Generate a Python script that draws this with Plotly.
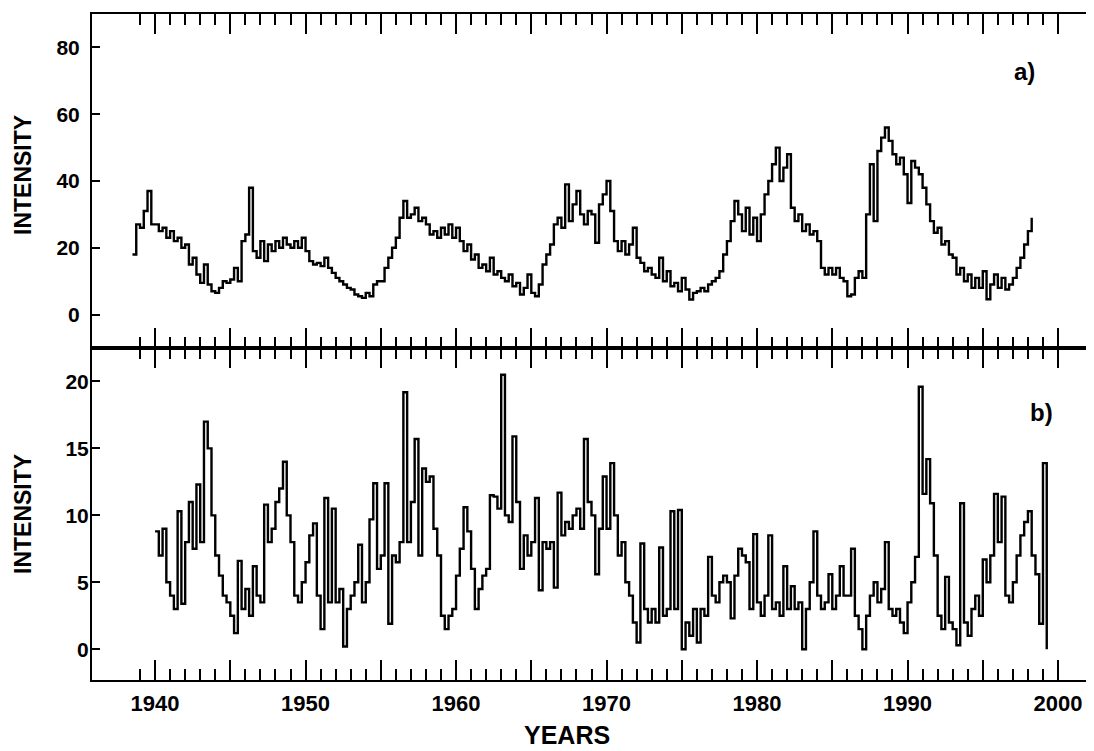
import plotly.graph_objects as go

# ---------------- data (quarter-year sampling) ----------------
STEP = 0.25

A_START = 1938.5
intensity_a = [
    18, 27,                 # 1938.50-1938.75
    26, 31, 37, 27,         # 1939
    27, 25, 26, 23,         # 1940
    25, 22, 23, 20,         # 1941
    21, 15, 17, 12,         # 1942
    9.5, 15, 9, 7,          # 1943
    6.5, 8, 10, 9.5,        # 1944
    10.5, 14, 10, 22,       # 1945
    24, 38, 19, 17,         # 1946
    22, 16, 21, 19,         # 1947
    22, 20, 23, 21,         # 1948
    20, 22, 20, 23,         # 1949
    19, 16, 15, 15.5,       # 1950
    14.5, 17, 14, 12.5,     # 1951
    11, 10, 9, 8,           # 1952
    7.5, 6, 5.5, 5,         # 1953
    6.5, 5.5, 9, 10,        # 1954
    10, 14, 17, 20,         # 1955
    23, 29, 34, 29,         # 1956
    30, 32, 28, 29,         # 1957
    27, 24, 25, 23,         # 1958
    26, 24, 27, 23,         # 1959
    26, 22, 19, 21,         # 1960
    16.5, 18, 14, 15,       # 1961
    13, 17, 12, 13,         # 1962
    11, 10, 12, 8.5,        # 1963
    9.5, 6, 8, 12,          # 1964
    6.5, 5.5, 9, 15,        # 1965
    18, 21, 27, 29,         # 1966
    26, 39, 28, 33,         # 1967
    37, 30, 27, 31,         # 1968
    30, 21.5, 33, 36,       # 1969
    40, 31, 22, 19,         # 1970
    22, 18, 21, 26,         # 1971
    17, 15.5, 13, 14,       # 1972
    12, 11, 17, 10,         # 1973
    13, 8.5, 9.5, 7,        # 1974
    11, 7.5, 4.5, 6.5,      # 1975
    7, 8, 7, 9,             # 1976
    10, 11, 13, 18,         # 1977
    22, 28, 34, 30,         # 1978
    25, 32, 24, 29,         # 1979
    22, 30, 36, 40,         # 1980
    45, 50, 40, 44,         # 1981
    48, 32, 28, 30,         # 1982
    25, 27, 24, 25,         # 1983
    22, 14, 12, 14,         # 1984
    12, 14, 11, 10,         # 1985
    5.5, 6, 11, 13,         # 1986
    11, 30, 45, 28,         # 1987
    49, 53, 56, 52,         # 1988
    48, 45, 47, 42,         # 1989
    33.4, 46, 44, 42,       # 1990
    38, 33, 28, 24.5,       # 1991
    26, 21, 22, 18,         # 1992
    17, 12, 14, 10,         # 1993
    12, 8, 11, 8,           # 1994
    13, 4.6, 9, 12,         # 1995
    8, 11, 7.5, 9,          # 1996
    11, 14, 17, 21,         # 1997
    25, 29,                 # 1998.00-1998.25
]

B_START = 1940.0
intensity_b = [
    8.8, 7, 9, 5,           # 1940
    4, 3, 10.3, 3.4,        # 1941
    8, 11, 7.5, 12.3,       # 1942
    8, 17, 15, 10,          # 1943
    7, 5.5, 4, 3.5,         # 1944
    2.5, 1.2, 6.6, 3,       # 1945
    4.5, 2.5, 6.2, 4,       # 1946
    3.5, 10.8, 8, 9,        # 1947
    11, 12, 14, 10,         # 1948
    8, 4, 3.5, 5,           # 1949
    6.5, 8.5, 9.4, 4,       # 1950
    1.5, 11.3, 3.5, 10.5,   # 1951
    3.5, 4.5, 0.2, 3,       # 1952
    4, 5, 7.8, 3.5,         # 1953
    5, 9.7, 12.4, 6,        # 1954
    7, 12.4, 1.9, 7,        # 1955
    6.5, 8, 19.2, 8,        # 1956
    11, 15.7, 7, 13.5,      # 1957
    12.5, 12.9, 9, 7,       # 1958
    2.5, 1.5, 2.5, 3,       # 1959
    5.5, 7.5, 10.6, 8.8,    # 1960
    6, 3, 4.5, 5.5,         # 1961
    6, 11.5, 11.4, 10.5,    # 1962
    20.5, 10, 9.5, 15.9,    # 1963
    11, 6, 8.5, 7,          # 1964
    8, 11.3, 4.4, 8,        # 1965
    7.5, 8, 4.6, 11.7,      # 1966
    8.5, 9.5, 9, 10,        # 1967
    10.5, 9, 15.7, 11,      # 1968
    10, 5.6, 9, 12.9,       # 1969
    9, 13.9, 10, 7,         # 1970
    8, 5, 4, 2,             # 1971
    0.5, 7.9, 3, 2,         # 1972
    3, 2, 7.6, 2.5,         # 1973
    3, 10.3, 3, 10.4,       # 1974
    0, 2, 1, 3,             # 1975
    0.5, 3, 2.5, 6.9,       # 1976
    4, 3.5, 5, 5.5,         # 1977
    5, 2.3, 5.5, 7.5,       # 1978
    7, 6.5, 3, 8.6,         # 1979
    3.5, 2.5, 4, 8.5,       # 1980
    3, 3.5, 2.5, 6.2,       # 1981
    3, 4.7, 3, 3.5,         # 1982
    0, 3, 5, 8.8,           # 1983
    4, 3, 3.5, 5.6,         # 1984
    3, 4, 6.2, 4,           # 1985
    4, 7.5, 2.5, 1.5,       # 1986
    0, 2.5, 4, 5,           # 1987
    3.5, 4.5, 8, 3,         # 1988
    2.5, 3, 2, 1.2,         # 1989
    3.5, 5, 6.9, 19.6,      # 1990
    11.6, 14.2, 10.9, 7,    # 1991
    2.5, 1.5, 5.4, 2,       # 1992
    1.5, 0.3, 10.9, 2,      # 1993
    1, 3, 4, 2.5,           # 1994
    6.7, 5, 7, 11.6,        # 1995
    8, 11.4, 4, 3.5,        # 1996
    5, 7, 8.5, 9.5,         # 1997
    10.3, 7, 5.6, 1.9,      # 1998
    13.9, 0,                # 1999.00-1999.25
]

year_ticks = [1940, 1945, 1950, 1955, 1960, 1965, 1970, 1975, 1980, 1985, 1990, 1995, 2000]
year_labels = ["1940", "", "1950", "", "1960", "", "1970", "", "1980", "", "1990", "", "2000"]
minor_years = list(range(1939, 2001))
ticks_a = [0, 20, 40, 60, 80]
ticks_b = [0, 5, 10, 15, 20]

years_a = [A_START + STEP * i for i in range(len(intensity_a))]
years_b = [B_START + STEP * i for i in range(len(intensity_b))]

# ---------------- figure ----------------
FONT = "Liberation Sans, Arial, sans-serif"
X_RANGE = [1935.81, 2002.39]
SPLIT = 0.4985

fig = go.Figure()
fig.add_trace(go.Scatter(x=years_a, y=intensity_a, xaxis="x2", yaxis="y2", mode="lines",
                         line=dict(color="black", width=2.4, shape="hv"), showlegend=False))
fig.add_trace(go.Scatter(x=years_b, y=intensity_b, xaxis="x", yaxis="y", mode="lines",
                         line=dict(color="black", width=2.4, shape="hv"), showlegend=False))
# empty helper traces so that the tick-only overlay axes are rendered
for xa, ya in (("x3", "y"), ("x4", "y2"), ("x5", "y"), ("x6", "y2")):
    fig.add_trace(go.Scatter(x=[], y=[], xaxis=xa, yaxis=ya, mode="lines",
                             showlegend=False, hoverinfo="skip"))

common_x = dict(
    range=X_RANGE, tickmode="array", tickvals=year_ticks, ticktext=year_labels,
    ticks="inside", ticklen=20, tickwidth=2, tickcolor="black",
    showline=True, linewidth=2, linecolor="black", mirror="ticks",
    showgrid=False, zeroline=False, automargin=False,
)

# yearly ticks (short) limited to 1939-2000
minor_x = dict(
    range=X_RANGE, tickmode="array", tickvals=minor_years, showticklabels=False,
    ticks="inside", ticklen=11, tickwidth=2, tickcolor="black",
    showline=True, linewidth=2, linecolor="black", mirror="ticks",
    showgrid=False, zeroline=False, automargin=False,
)

# five-year ticks (long)
major_x = dict(
    range=X_RANGE, tickmode="array", tickvals=year_ticks, showticklabels=False,
    ticks="inside", ticklen=20, tickwidth=2, tickcolor="black",
    showline=True, linewidth=2, linecolor="black", mirror="ticks",
    showgrid=False, zeroline=False, automargin=False,
)

common_y = dict(
    ticks="inside", ticklen=8, tickwidth=2, tickcolor="black",
    showline=True, linewidth=2, linecolor="black",
    showgrid=False, zeroline=False, automargin=False,
    tickfont=dict(family=FONT, size=21, color="black", weight="bold"),
)

fig.update_layout(
    template="none",
    width=1086, height=743,
    margin=dict(l=84, r=0, t=6, b=71, autoexpand=False),
    paper_bgcolor="white", plot_bgcolor="white",
    xaxis=dict(domain=[0, 1], anchor="y", **common_x,
               tickfont=dict(family=FONT, size=22, color="black", weight="bold"),
               ticklabelstandoff=3),
    xaxis2=dict(domain=[0, 1], anchor="y2", matches="x", showticklabels=False, **common_x),
    xaxis3=dict(anchor="y", overlaying="x", **minor_x),
    xaxis4=dict(anchor="y2", overlaying="x2", **minor_x),
    xaxis5=dict(anchor="y", overlaying="x", **major_x),
    xaxis6=dict(anchor="y2", overlaying="x2", **major_x),
    yaxis=dict(domain=[0, SPLIT], anchor="x", range=[-2.3, 22.5], tickvals=ticks_b,
               ticklabelstandoff=-3, **common_y),
    yaxis2=dict(domain=[SPLIT, 1], anchor="x2", range=[-10, 90], tickvals=ticks_a,
                ticklabelstandoff=6, **common_y),
    annotations=[
        dict(text="INTENSITY", xref="paper", yref="paper", x=0, y=(SPLIT + 1) / 2,
             xshift=-69, yshift=6, textangle=-90, showarrow=False, xanchor="center",
             yanchor="middle", font=dict(family=FONT, size=23, color="black", weight="bold")),
        dict(text="INTENSITY", xref="paper", yref="paper", x=0, y=SPLIT / 2,
             xshift=-69, textangle=-90, showarrow=False, xanchor="center", yanchor="middle",
             font=dict(family=FONT, size=23, color="black", weight="bold")),
        dict(text="YEARS", xref="paper", yref="paper", x=0.474, y=0, yshift=-55,
             showarrow=False, xanchor="center", yanchor="middle",
             font=dict(family=FONT, size=25, color="black", weight="bold")),
        dict(text="a)", xref="paper", yref="paper", x=0.931, y=0.913,
             showarrow=False, xanchor="center", yanchor="middle",
             font=dict(family=FONT, size=24, color="black", weight="bold")),
        dict(text="b)", xref="paper", yref="paper", x=0.948, y=0.401,
             showarrow=False, xanchor="center", yanchor="middle",
             font=dict(family=FONT, size=24, color="black", weight="bold")),
    ],
)

fig.write_html("out.html")
